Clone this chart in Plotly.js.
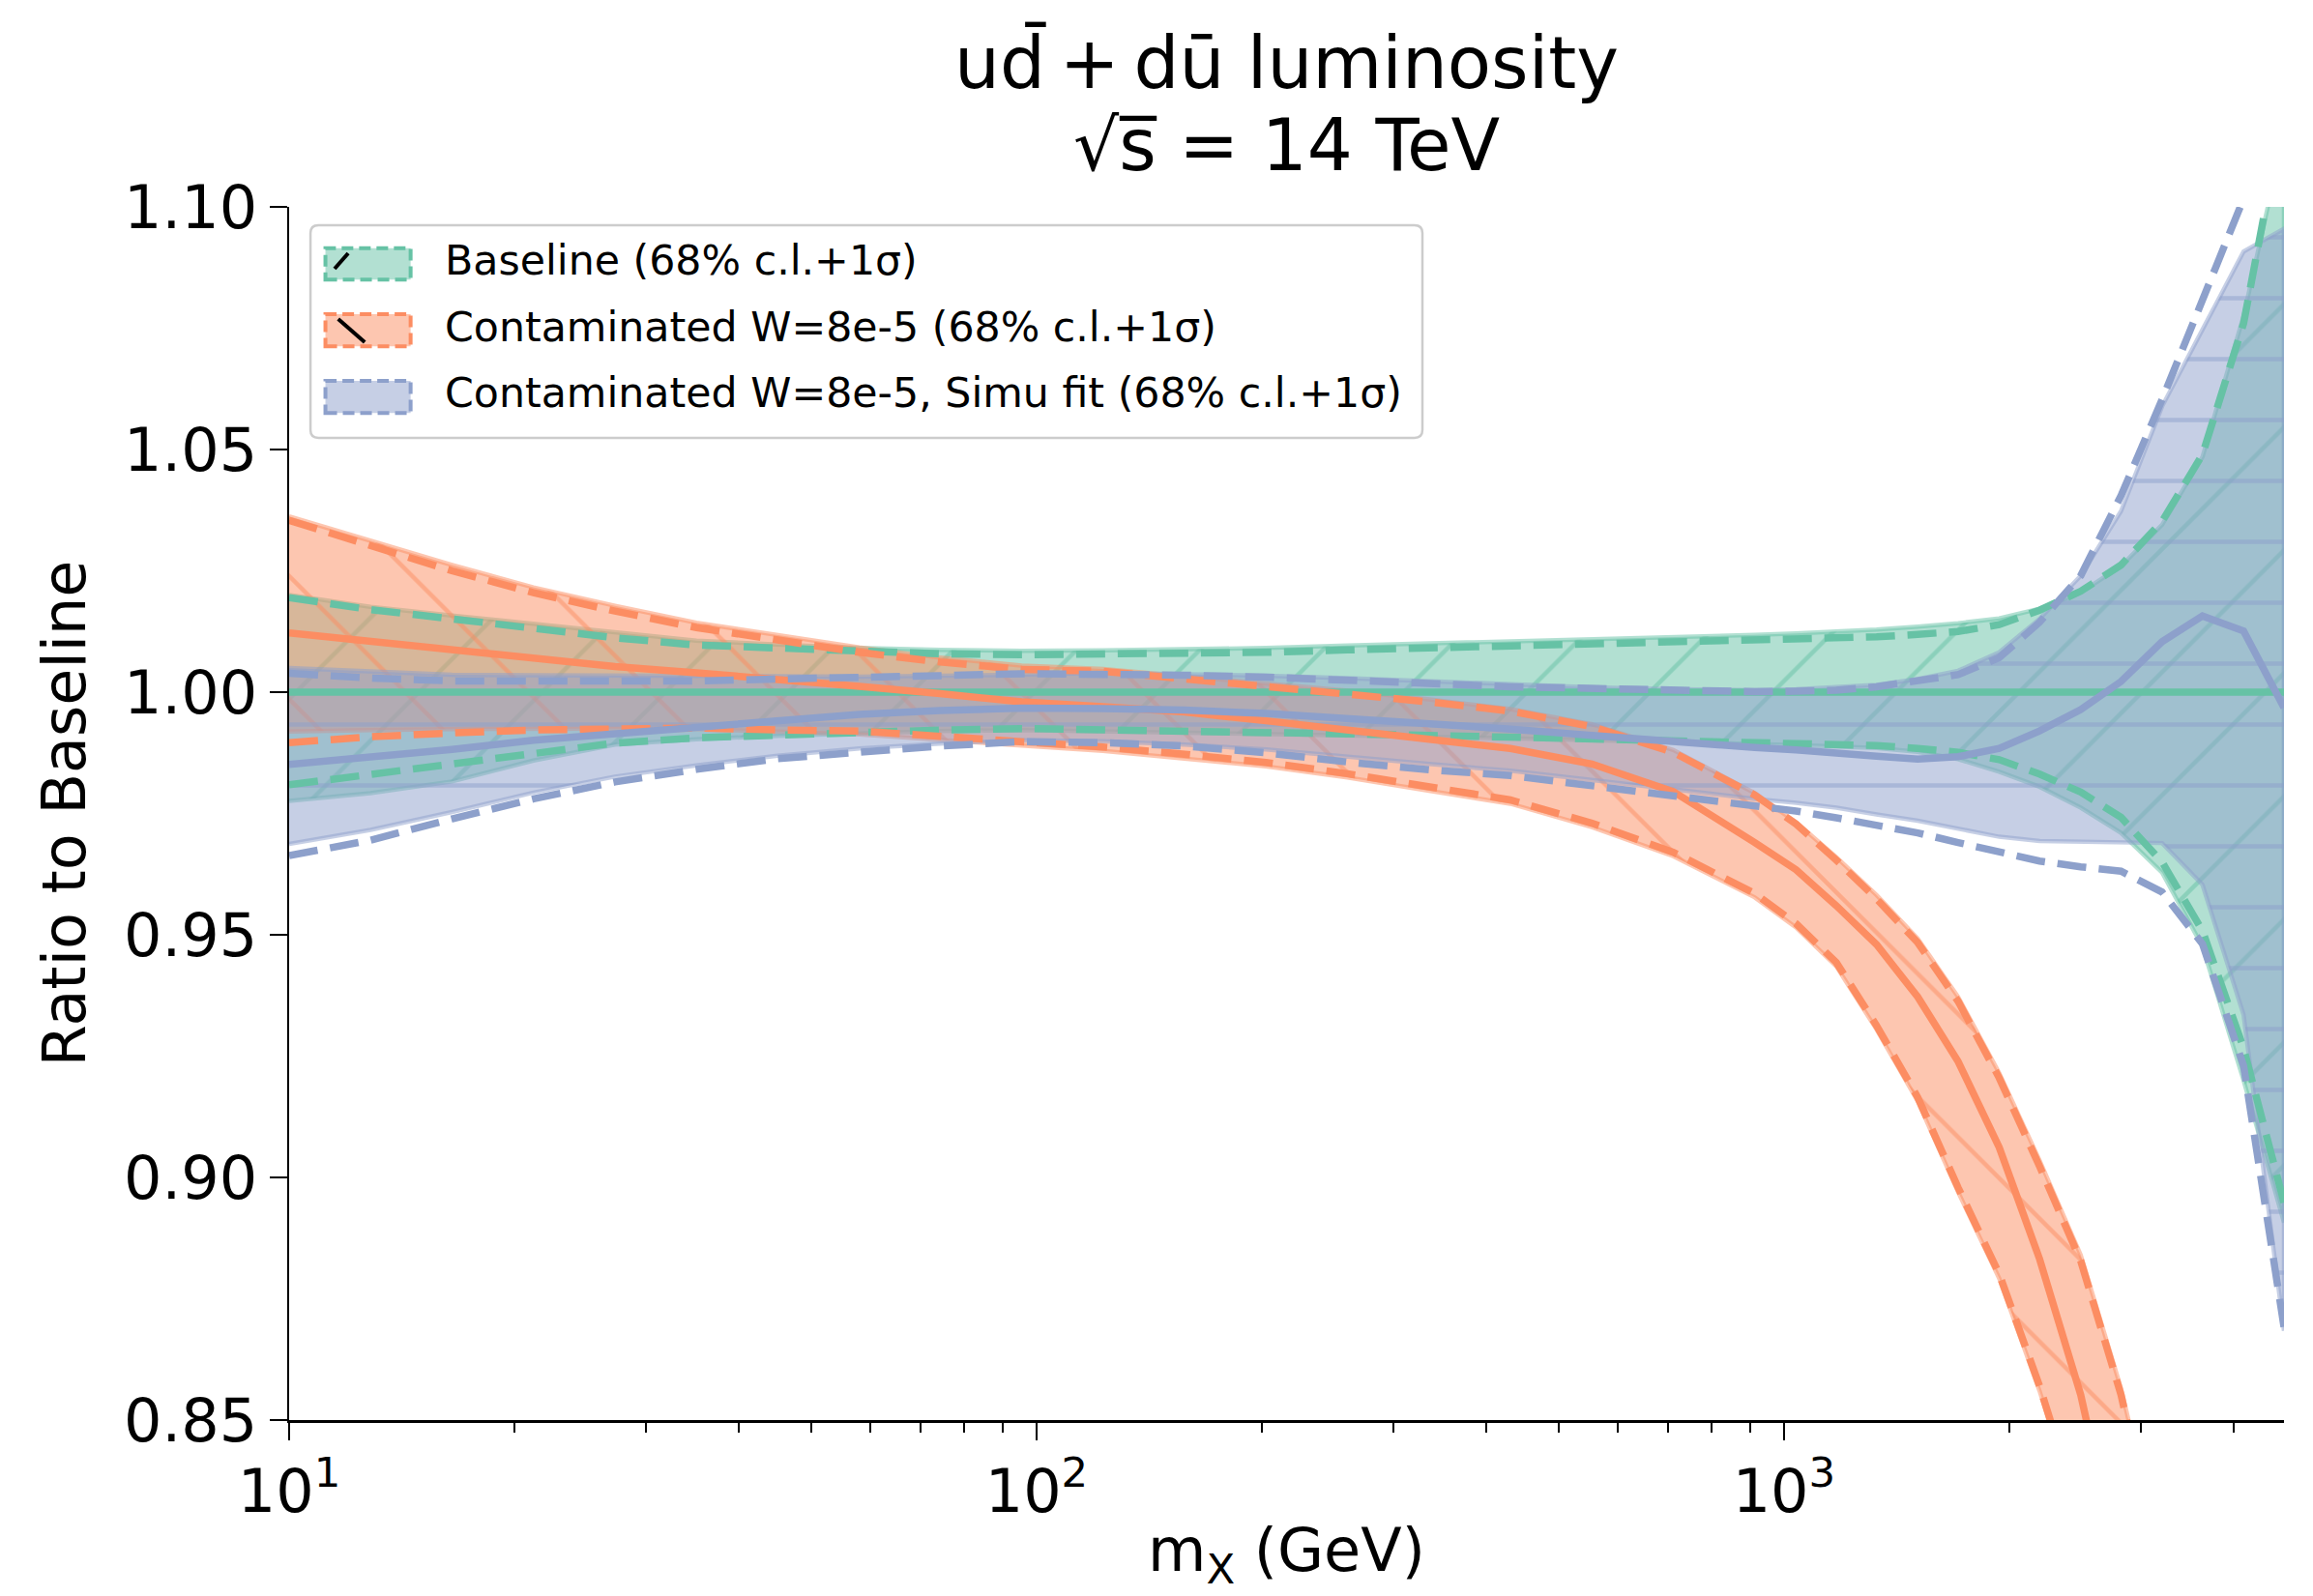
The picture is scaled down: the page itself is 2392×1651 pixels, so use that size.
<!DOCTYPE html>
<html>
<head>
<meta charset="utf-8">
<script src="https://cdn.plot.ly/plotly-3.0.1.min.js"></script>
<style>html,body{margin:0;padding:0;background:#fff}</style>
</head>
<body>
<div id="chart" style="width:2392px;height:1651px"></div>
<script>
// ---------------- data ----------------
const massGeV = [10.0, 12.85, 16.52, 21.23, 27.29, 35.08, 45.08, 57.94, 74.30, 95.50,
  122.7, 157.8, 202.8, 260.6, 335.0, 430.5, 553.4, 711.2, 914.1, 1038,
  1175, 1330, 1510, 1710, 1941, 2198, 2495, 2825, 3206, 3631, 4121, 4667];

// Baseline
const baseCentral = [1,1,1,1,1,1,1,1,1,1, 1,1,1,1,1,1,1,1,1,1, 1,1,1,1,1,1,1,1,1,1, 1,1];
const baseUp1s = [1.0195, 1.0170, 1.0151, 1.0131, 1.0112, 1.0097, 1.0090, 1.0083, 1.0079, 1.0077,
  1.0078, 1.0079, 1.0082, 1.0087, 1.0091, 1.0094, 1.0097, 1.0101, 1.0106, 1.0108,
  1.0110, 1.0114, 1.0119, 1.0125, 1.0139, 1.0169, 1.0208, 1.0262, 1.0352, 1.0490, 1.0760, 1.1200];
const baseDn1s = [0.9809, 0.9831, 0.9853, 0.9874, 0.9895, 0.9906, 0.9912, 0.9918, 0.9922, 0.9925,
  0.9923, 0.9920, 0.9917, 0.9914, 0.9911, 0.9908, 0.9904, 0.9899, 0.9896, 0.9894,
  0.9892, 0.9890, 0.9884, 0.9876, 0.9861, 0.9831, 0.9794, 0.9742, 0.9650, 0.9508, 0.9266, 0.8948];
const baseUpCL = [1.0200, 1.0176, 1.0158, 1.0140, 1.0122, 1.0106, 1.0098, 1.0091, 1.0087, 1.0085,
  1.0086, 1.0088, 1.0091, 1.0096, 1.0100, 1.0104, 1.0108, 1.0113, 1.0118, 1.0121,
  1.0124, 1.0129, 1.0135, 1.0142, 1.0152, 1.0172, 1.0205, 1.0260, 1.0345, 1.0485, 1.0775, 1.1150];
const baseDnCL = [0.9776, 0.9792, 0.9816, 0.9859, 0.9892, 0.9903, 0.9910, 0.9916, 0.9920, 0.9922,
  0.9920, 0.9917, 0.9914, 0.9911, 0.9908, 0.9905, 0.9901, 0.9896, 0.9893, 0.9891,
  0.9889, 0.9885, 0.9877, 0.9862, 0.9836, 0.9805, 0.9762, 0.9710, 0.9628, 0.9476, 0.9200, 0.8907];

// Contaminated W=8e-5
const contCentral = [1.0122, 1.0104, 1.0087, 1.0069, 1.0053, 1.0040, 1.0027, 1.0012, 0.9997, 0.9980,
  0.9970, 0.9959, 0.9941, 0.9923, 0.9903, 0.9884, 0.9852, 0.9795, 0.9690, 0.9634,
  0.9560, 0.9480, 0.9372, 0.9239, 0.9062, 0.8832, 0.8552, 0.8200, 0.7800, 0.7300, 0.6700, 0.6000];
const contUp1s = [1.0354, 1.0301, 1.0250, 1.0205, 1.0167, 1.0133, 1.0107, 1.0082, 1.0062, 1.0047,
  1.0043, 1.0028, 1.0013, 0.9998, 0.9980, 0.9961, 0.9929, 0.9876, 0.9788, 0.9728,
  0.9654, 0.9574, 0.9484, 0.9363, 0.9205, 0.9023, 0.8828, 0.8552, 0.8200, 0.7800, 0.7300, 0.6700];
const contDn1s = [0.9896, 0.9908, 0.9916, 0.9922, 0.9924, 0.9926, 0.9922, 0.9920, 0.9909, 0.9898,
  0.9887, 0.9872, 0.9855, 0.9832, 0.9805, 0.9778, 0.9730, 0.9670, 0.9585, 0.9523,
  0.9443, 0.9313, 0.9165, 0.8979, 0.8801, 0.8570, 0.8300, 0.7950, 0.7500, 0.7000, 0.6400, 0.5800];
const contUpCL = [1.0362, 1.0312, 1.0262, 1.0216, 1.0178, 1.0143, 1.0117, 1.0092, 1.0071, 1.0055,
  1.0048, 1.0033, 1.0018, 1.0003, 0.9985, 0.9965, 0.9934, 0.9881, 0.9792, 0.9732,
  0.9660, 0.9582, 0.9492, 0.9372, 0.9215, 0.9035, 0.8840, 0.8565, 0.8210, 0.7810, 0.7310, 0.6710];
const contDnCL = [0.9919, 0.9922, 0.9924, 0.9925, 0.9925, 0.9924, 0.9919, 0.9913, 0.9902, 0.9890,
  0.9879, 0.9864, 0.9847, 0.9824, 0.9797, 0.9770, 0.9722, 0.9662, 0.9577, 0.9515,
  0.9435, 0.9305, 0.9157, 0.8970, 0.8792, 0.8560, 0.8290, 0.7940, 0.7490, 0.6990, 0.6390, 0.5790];

// Contaminated W=8e-5, Simu fit
const simuCentral = [0.9851, 0.9865, 0.9882, 0.9901, 0.9915, 0.9929, 0.9942, 0.9954, 0.9962, 0.9967,
  0.9966, 0.9963, 0.9956, 0.9946, 0.9935, 0.9924, 0.9911, 0.9897, 0.9886, 0.9881,
  0.9876, 0.9868, 0.9862, 0.9867, 0.9884, 0.9920, 0.9964, 1.0022, 1.0104, 1.0157, 1.0126, 0.9968];
const simuUp1s = [1.0039, 1.0029, 1.0023, 1.0022, 1.0022, 1.0023, 1.0027, 1.0029, 1.0034, 1.0038,
  1.0038, 1.0035, 1.0031, 1.0026, 1.0018, 1.0011, 1.0007, 1.0002, 1.0001, 1.0002,
  1.0004, 1.0011, 1.0024, 1.0036, 1.0071, 1.0144, 1.0240, 1.0405, 1.0603, 1.0808, 1.1017, 1.1250];
const simuDn1s = [0.9663, 0.9695, 0.9739, 0.9780, 0.9815, 0.9841, 0.9863, 0.9877, 0.9889, 0.9898,
  0.9896, 0.9889, 0.9875, 0.9856, 0.9840, 0.9828, 0.9807, 0.9787, 0.9767, 0.9755,
  0.9741, 0.9727, 0.9710, 0.9690, 0.9672, 0.9652, 0.9640, 0.9631, 0.9588, 0.9481, 0.9230, 0.8692];
const simuUpCL = [1.0050, 1.0042, 1.0036, 1.0035, 1.0035, 1.0035, 1.0033, 1.0032, 1.0033, 1.0036,
  1.0040, 1.0038, 1.0034, 1.0029, 1.0022, 1.0015, 1.0010, 1.0006, 1.0004, 1.0006,
  1.0010, 1.0015, 1.0027, 1.0044, 1.0082, 1.0151, 1.0240, 1.0373, 1.0589, 1.0748, 1.0908, 1.0955];
const simuDnCL = [0.9687, 0.9716, 0.9753, 0.9793, 0.9826, 0.9849, 0.9869, 0.9884, 0.9894, 0.9901,
  0.9899, 0.9892, 0.9882, 0.9866, 0.9852, 0.9838, 0.9820, 0.9800, 0.9780, 0.9772,
  0.9762, 0.9748, 0.9735, 0.9718, 0.9702, 0.9693, 0.9690, 0.9690, 0.9689, 0.9603, 0.9335, 0.8684];

const seriesNames = ["Baseline (68% c.l.+1σ)",
  "Contaminated W=8e-5 (68% c.l.+1σ)",
  "Contaminated W=8e-5, Simu fit (68% c.l.+1σ)"];
const xTickVals = [10, 100, 1000];
const xTickText = ["10<sup>1</sup>", "10<sup>2</sup>", "10<sup>3</sup>"];
const yTickVals = [0.85, 0.90, 0.95, 1.00, 1.05, 1.10];

// ---------------- styling ----------------
const FONT = "DejaVu Sans";
const sets = [
  {c: baseCentral, u: baseUp1s, d: baseDn1s, fu: baseUpCL, fd: baseDnCL,
   rgb: [102,194,165], hex: "#66c2a5", hatch: "/", hsize: 90, hsolid: 0.05},
  {c: contCentral, u: contUp1s, d: contDn1s, fu: contUpCL, fd: contDnCL,
   rgb: [252,141,98], hex: "#fc8d62", hatch: "\\", hsize: 90, hsolid: 0.05},
  {c: simuCentral, u: simuUp1s, d: simuDn1s, fu: simuUpCL, fd: simuDnCL,
   rgb: [141,160,203], hex: "#8da0cb", hatch: "-", hsize: 63, hsolid: 0.07}
];
const rgba = (c, a) => `rgba(${c[0]},${c[1]},${c[2]},${a})`;

const traces = [];
// bands first
sets.forEach((s, i) => {
  traces.push({
    type: "scatter", mode: "lines",
    x: massGeV.concat(massGeV.slice().reverse()),
    y: s.fu.concat(s.fd.slice().reverse()),
    fill: "toself",
    fillcolor: rgba(s.rgb, 0.5),
    fillpattern: {shape: s.hatch, bgcolor: rgba(s.rgb, 0.5), fgcolor: s.hex,
                  fgopacity: 0.5, size: s.hsize, solidity: s.hsolid},
    line: {color: rgba(s.rgb, 0.5), width: 4.5},
    name: seriesNames[i], showlegend: false, hoverinfo: "skip"
  });
});
// then lines
sets.forEach((s, i) => {
  [s.u, s.d].forEach(arr => traces.push({
    type: "scatter", mode: "lines", x: massGeV, y: arr,
    line: {color: s.hex, width: 7.5, dash: "30px,13px"},
    showlegend: false, hoverinfo: "skip"
  }));
  traces.push({
    type: "scatter", mode: "lines", x: massGeV, y: s.c,
    line: {color: s.hex, width: 7.5},
    showlegend: false, hoverinfo: "skip", name: seriesNames[i]
  });
});

// ---------------- manual legend (paper coords) ----------------
const L = {x0: 0.0107, x1: 0.5681, y0: 0.8096, y1: 0.9849, rx: 0.0040, ry: 0.0065};
const framePath = `M${L.x0+L.rx},${L.y0} L${L.x1-L.rx},${L.y0} Q${L.x1},${L.y0} ${L.x1},${L.y0+L.ry} ` +
  `L${L.x1},${L.y1-L.ry} Q${L.x1},${L.y1} ${L.x1-L.rx},${L.y1} L${L.x0+L.rx},${L.y1} ` +
  `Q${L.x0},${L.y1} ${L.x0},${L.y1-L.ry} L${L.x0},${L.y0+L.ry} Q${L.x0},${L.y0} ${L.x0+L.rx},${L.y0} Z`;
const shapes = [{type: "path", xref: "paper", yref: "paper", path: framePath,
  fillcolor: "rgba(255,255,255,0.8)", line: {color: "#cccccc", width: 2.5}}];
const patchRows = [[0.940, 0.966], [0.885, 0.9116], [0.830, 0.8566]];
const textRows = [0.9565, 0.9015, 0.8473];
const annotations = [];
sets.forEach((s, i) => {
  shapes.push({type: "rect", xref: "paper", yref: "paper",
    x0: 0.0182, x1: 0.0609, y0: patchRows[i][0], y1: patchRows[i][1],
    fillcolor: rgba(s.rgb, 0.5), line: {color: s.hex, width: 4, dash: "12px,6px"}});
  annotations.push({xref: "paper", yref: "paper", x: 0.0770, y: textRows[i],
    xanchor: "left", yanchor: "middle", showarrow: false, text: seriesNames[i],
    font: {family: FONT, size: 42.7, color: "#000"}});
});
shapes.push({type: "line", xref: "paper", yref: "paper", x0: 0.0228, y0: 0.949, x1: 0.0296, y1: 0.9618,
  line: {color: "#000", width: 4}});
shapes.push({type: "line", xref: "paper", yref: "paper", x0: 0.0246, y0: 0.9076, x1: 0.0379, y1: 0.8884,
  line: {color: "#000", width: 4}});

// title (two lines)
annotations.push({xref: "paper", yref: "paper", x: 0.5, y: 1.0831, xanchor: "center", yanchor: "bottom",
  showarrow: false, text: "ud\u0304\u2009+\u2009du\u0304 luminosity", font: {family: FONT, size: 74, color: "#000"}});
annotations.push({xref: "paper", yref: "paper", x: 0.5, y: 1.0154, xanchor: "center", yanchor: "bottom",
  showarrow: false, text: "\u221As\u0305 = 14 TeV", font: {family: FONT, size: 74, color: "#000"}});
// x-axis title placed below the tick labels
annotations.push({xref: "paper", yref: "paper", x: 0.5, y: -0.0765, xanchor: "center", yanchor: "top",
  showarrow: false, text: "m<sub>X</sub> (GeV)", font: {family: FONT, size: 62, color: "#000"}});

const layout = {
  width: 2392, height: 1651,
  margin: {l: 299, r: 30, t: 214, b: 182},
  paper_bgcolor: "#fff", plot_bgcolor: "#fff",
  font: {family: FONT, size: 62, color: "#000"},
  showlegend: false,
  xaxis: {
    type: "log",
    range: [Math.log10(massGeV[0]), Math.log10(massGeV[massGeV.length - 1])],
    tickmode: "array", tickvals: xTickVals, ticktext: xTickText,
    ticks: "outside", ticklen: 18, tickwidth: 2.5, tickcolor: "#000",
    minor: {ticks: "outside", ticklen: 10, tickwidth: 2, tickcolor: "#000", dtick: "D1", showgrid: false},
    showline: true, linecolor: "#000", linewidth: 2.5, mirror: false,
    showgrid: false, zeroline: false,
    tickfont: {family: FONT, size: 62, color: "#000"}
  },
  yaxis: {
    range: [yTickVals[0], yTickVals[yTickVals.length - 1]],
    tickmode: "array", tickvals: yTickVals, tickformat: ".2f",
    ticks: "outside", ticklen: 18, tickwidth: 2.5, tickcolor: "#000",
    showline: true, linecolor: "#000", linewidth: 2.5, mirror: false,
    showgrid: false, zeroline: false,
    tickfont: {family: FONT, size: 62, color: "#000"},
    title: {text: "Ratio to Baseline", font: {family: FONT, size: 62, color: "#000"}, standoff: 20}
  },
  shapes: shapes,
  annotations: annotations
};

Plotly.newPlot("chart", traces, layout, {staticPlot: true, displayModeBar: false});
</script>
</body>
</html>
